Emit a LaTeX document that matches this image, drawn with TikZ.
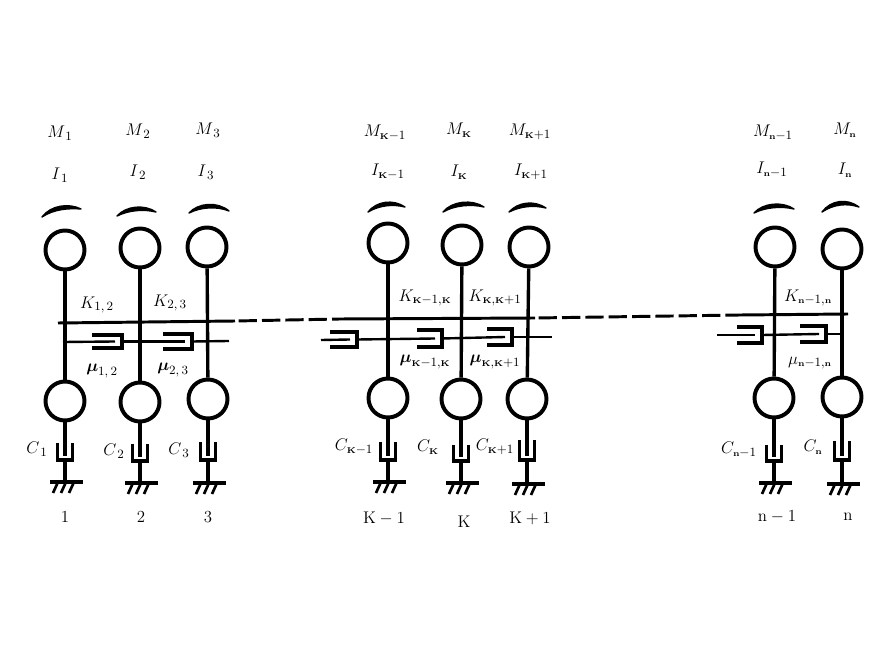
\documentclass[tikz,border=0pt]{standalone}
\usepackage{amsmath}
\usepackage{tikz}
\usetikzlibrary{positioning}
\newcommand{\kk}{{\scriptscriptstyle\mathbf{K}}}
\newcommand{\nn}{{\scriptscriptstyle\mathbf{n}}}
\tikzset{%
  mass/.style={draw, circle, line width=2.8pt, minimum size=39*0.025cm, inner sep=0pt},
  shaft/.style={draw, line width=2.4pt},
  stem/.style={draw, line width=2.9pt},
  rod/.style={draw, line width=1.7pt},
  cup/.style={draw, line width=2.5pt, line join=miter},
  spring/.style={draw, line width=2.1pt},
  twist/.style={fill, draw, line width=1pt, line join=round},
  tag/.style={inner sep=0pt, font=\fontsize{13}{15}\selectfont},
  num/.style={inner sep=0pt, font=\fontsize{12}{14}\selectfont}}
\begin{document}
\begin{tikzpicture}[x=0.025cm, y=-0.025cm]
    \useasboundingbox (0, 0) rectangle (888, 668);

    % one column: name / top mass / bottom mass / cup top and bottom / ground
    \foreach \c/\xt/\yt/\xb/\yb/\xd/\ya/\yd/\yg in {1/65/250/65/401/65/443/460/482,
        2/140/248/140/402/140/444/461/483,
        3/207/247/208/399/208/442/460/483,
        4/388/243/388/398/388/442/460/482,
        5/462/245/461/399/461/445/461/483,
        6/529/247/527/399/527/440/460/484,
        7/775/247/774/398/774/445/461/483,
        8/842/249/842/397/842/441/460/484} {
      \node [mass] (top\c) at (\xt, \yt) {};
      \node [mass] (bot\c) at (\xb, \yb) {};
      \path [shaft] (top\c) -- (bot\c);

      \coordinate (pist\c) at (\xd, \yd - 4);
      \coordinate (base\c) at (\xd, \yd);
      \coordinate (gnd\c) at (\xd, \yg);
      \path [stem] (bot\c) -- (pist\c);
      \path [cup] (\xd - 7.5, \ya) -- (\xd - 7.5, \yd) -- (\xd + 7.5, \yd) -- (\xd + 7.5, \ya);
      \path [stem] (base\c) -- (gnd\c);

      \path [shaft] (\xd - 15, \yg) -- (\xd + 18, \yg);
      \foreach \h in {-7, 1, 9} {
        \draw [line width=1.9pt] (\xd + \h, \yg) -- (\xd + \h - 5, \yg + 11);
      }
    }

    % the twist marks above the masses
    \foreach \xa/\ya/\xb/\yb/\yc in {42/217/81/209/204,
        117/216/156/212/205,
        189/213/229/211/202,
        368/212/405/207/200,
        443/212/484/207/200,
        509/212/546/208/201,
        754/213/794/209/202,
        822/212/859/207/199} {
      \path [twist] (\xa, \ya) .. controls (\xa + 9, \yc + 1) and (\xb - 12, \yc - 1) .. (\xb, \yb)
        .. controls (\xb - 12, \yc + 4) and (\xa + 12, \yc + 5) .. cycle;
    }

    % stiffness line, broken between the groups
    \coordinate (sa) at (58, 323);
    \coordinate (sb) at (235, 321);
    \coordinate (sc) at (340, 319);
    \coordinate (sd) at (535, 318);
    \coordinate (se) at (740, 315);
    \coordinate (sf) at (848, 314);
    \path [spring] (sa) -- (sb);
    \path [spring, dash pattern=on 13pt off 3.6pt, dash phase=14pt] (sb) -- (sc);
    \path [spring] (sc) -- (sd);
    \path [spring, dash pattern=on 13pt off 3.6pt, dash phase=14pt] (sd) -- (se);
    \path [spring] (se) -- (sf);

    % side dampers: name / left / right / top / bottom
    \foreach \d/\xl/\xr/\yu/\yl in {1/92/122/335/348,
        2/163/192/334/349,
        3/330/357/332/347,
        4/417/442/330/347,
        5/487/512/329/345,
        6/737/762/327/343,
        7/800/826/326/342} {
      \path [cup] (\xl, \yu) -- (\xr, \yu) -- (\xr, \yl) -- (\xl, \yl);
      \coordinate (in\d) at (\xr - 7, {(\yu + \yl) / 2});
      \coordinate (out\d) at (\xr, {(\yu + \yl) / 2});
    }
    \coordinate (ra) at (63, 342);
    \coordinate (rb) at (229, 341);
    \coordinate (rc) at (321, 340);
    \coordinate (rd) at (552, 337);
    \coordinate (re) at (717, 335);
    \coordinate (rf) at (842, 334);
    \path [rod] (ra) -- (in1);
    \path [rod] (out1) -- (in2);
    \path [rod] (out2) -- (rb);
    \path [rod] (rc) -- (in3);
    \path [rod] (out3) -- (in4);
    \path [rod] (out4) -- (in5);
    \path [rod] (out5) -- (rd);
    \path [rod] (re) -- (in6);
    \path [rod] (out6) -- (in7);
    \path [rod] (out7) -- (rf);

    \node [tag] (m1) at (60, 133) {$M_{\,1}$};
    \node [tag] (m2) at (138, 131) {$M_{\,2}$};
    \node [tag] (m3) at (208, 130) {$M_{\,3}$};
    \node [tag] (m4) at (385, 133) {$M_{\kk-1}$};
    \node [tag] (m5) at (459, 130) {$M_{\kk}$};
    \node [tag] (m6) at (530, 132) {$M_{\kk+1}$};
    \node [tag] (m7) at (773, 133) {$M_{\nn-1}$};
    \node [tag] (m8) at (845, 130) {$M_{\nn}$};

    \node [tag] (i1) at (60, 175) {$I_{\,1}$};
    \node [tag] (i2) at (138, 172) {$I_{\,2}$};
    \node [tag] (i3) at (206, 172) {$I_{\,3}$};
    \node [tag] (i4) at (388, 172) {$I_{\kk-1}$};
    \node [tag] (i5) at (459, 172) {$I_{\kk}$};
    \node [tag] (i6) at (531, 172) {$I_{\kk+1}$};
    \node [tag] (i7) at (772, 170) {$I_{\nn-1}$};
    \node [tag] (i8) at (845, 170) {$I_{\nn}$};

    \node [tag] (k1) at (97, 305) {$K_{1,\,2}$};
    \node [tag] (k2) at (170, 303) {$K_{2,\,3}$};
    \node [tag] (k3) at (425, 298) {$K_{\kk-1,\kk}$};
    \node [tag] (k4) at (495, 298) {$K_{\kk,\kk+1}$};
    \node [tag] (k5) at (808, 298) {$K_{\nn-1,\nn}$};

    \node [tag] (u1) at (102, 371) {$\boldsymbol{\mu}_{1,\,2}$};
    \node [tag] (u2) at (173, 370) {$\boldsymbol{\mu}_{2,\,3}$};
    \node [tag] (u3) at (425, 362) {$\boldsymbol{\mu}_{\kk-1,\kk}$};
    \node [tag] (u4) at (495, 362) {$\boldsymbol{\mu}_{\kk,\kk+1}$};
    \node [tag] (u5) at (810, 363) {$\mu_{\nn-1,\nn}$};

    \node [tag] (c1) at (37, 449) {$C_{\,1}$};
    \node [tag] (c2) at (114, 451) {$C_{\,2}$};
    \node [tag] (c3) at (179, 450) {$C_{\,3}$};
    \node [tag] (c4) at (354, 447) {$C_{\kk-1}$};
    \node [tag] (c5) at (428, 447) {$C_{\kk}$};
    \node [tag] (c6) at (495, 447) {$C_{\kk+1}$};
    \node [tag] (c7) at (739, 450) {$C_{\nn-1}$};
    \node [tag] (c8) at (813, 447) {$C_{\nn}$};

    \node [num] (n1) at (65, 517) {1};
    \node [num] (n2) at (141, 517) {2};
    \node [num] (n3) at (208, 517) {3};
    \node [num] (n4) at (384, 518) {$\mathrm{K} - 1$};
    \node [num] (n5) at (464, 522) {K};
    \node [num] (n6) at (530, 518) {$\mathrm{K} + 1$};
    \node [num] (n7) at (777, 517) {$\mathrm{n} - 1$};
    \node [num] (n8) at (848, 517) {n};
\end{tikzpicture}
\end{document}
